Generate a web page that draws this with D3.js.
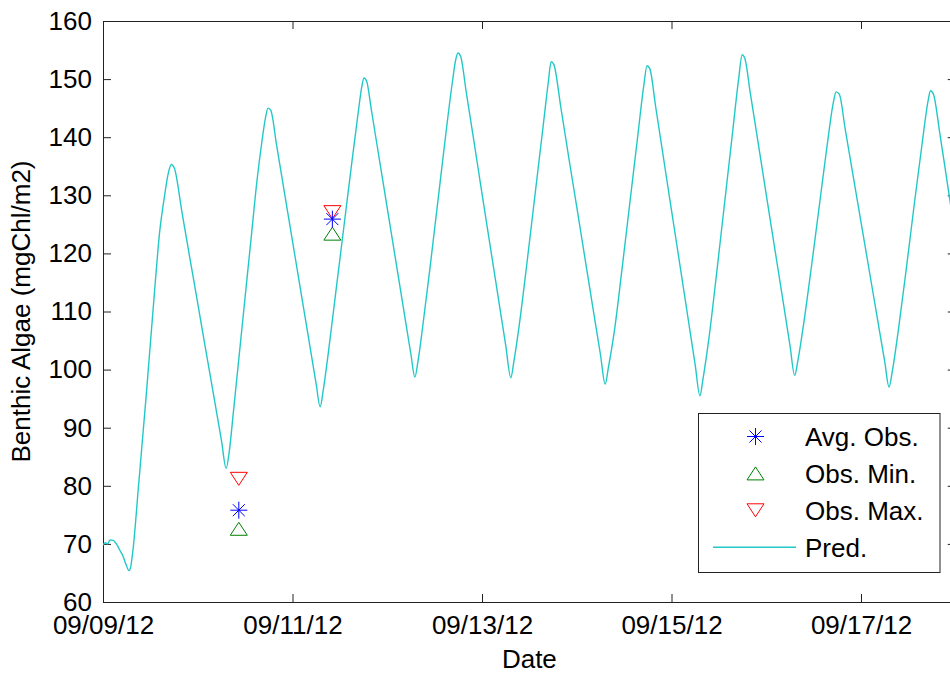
<!DOCTYPE html>
<html>
<head>
<meta charset="utf-8">
<script src="https://cdn.jsdelivr.net/npm/d3@7"></script>
<style>
  html, body { margin: 0; padding: 0; background: #ffffff; }
  svg { display: block; font-family: "Liberation Sans", Arial, Helvetica, sans-serif; }
</style>
</head>
<body>
<svg id="chart" width="950" height="675"></svg>
<script>
// ---- data -------------------------------------------------------------
// Predicted benthic algae, hours after 09/09/12 00:00 and mgChl/m2
const predHours = [
  0, 0.6, 1.2, 1.8, 2.6, 3.4, 4.2, 5.0, 5.8, 6.6, 7.0, 7.6, 9.0, 11.0, 13.0, 14.4, 15.5, 16.6, 17.3, 18.1,
  20, 22, 24, 26, 28, 30, 31.2,
  32, 33, 34.5, 36, 37.5, 39, 40.2, 41.2, 41.8, 42.5,
  44, 46, 48, 50, 52, 54, 55,
  55.8, 57, 59, 61, 63, 64.6, 65.5, 66.1, 66.8,
  68, 70, 72, 74, 76, 78, 79,
  79.8, 81, 83, 85, 87, 88.5, 89.3, 89.9, 90.6,
  92, 94, 96, 98, 100, 102, 103.3,
  104.1, 105.5, 107.5, 109.5, 111.5, 112.8, 113.5, 114.2,
  116, 118, 120, 122, 124, 126, 127.2,
  128, 129.5, 131.5, 133.5, 135.5, 137, 137.8, 138.5,
  140, 142, 144, 146, 148, 150, 151.2,
  152, 153.5, 155.5, 157.5, 159.5, 161, 161.9, 162.6,
  164, 166, 168, 170, 172, 174, 175.2,
  176, 177.5, 179.5, 181.5, 183.5, 185, 185.7, 186.5,
  188, 190, 192, 194, 196, 198, 199.1,
  200, 201.5, 203.5, 205.5, 207.5, 209, 209.6, 210.3,
  212, 214, 216
];
const predValues = [
  69.8, 70.2, 70.0, 70.7, 70.6, 70.0, 69.0, 68.0, 66.5, 65.4, 66.0, 69.0, 80, 96, 113, 124, 129.5, 134, 135.3, 134.6,
  127.1, 119.2, 111.4, 103.5, 95.7, 87.8, 83,
  86, 92.5, 102.5, 112.5, 122.5, 132.5, 139, 143.5, 145, 144.6,
  138.5, 130.3, 122.1, 113.9, 105.7, 97.5, 93.6,
  96.5, 102.5, 113.5, 124.5, 135.5, 144, 148.5, 150.2, 149.6,
  144.6, 136.2, 127.8, 119.4, 111, 102.6, 98.7,
  101.5, 107.5, 118.5, 130, 141.5, 149.5, 153.2, 154.5, 153.9,
  147.8, 139.1, 130.3, 121.6, 112.9, 104.2, 98.6,
  101.5, 108, 119, 130.5, 142, 149.5, 153, 152.5,
  145, 136.4, 128, 119.5, 111, 102.6, 97.5,
  100.3, 106.5, 117.5, 129, 140.5, 149, 152.3, 151.8,
  145.2, 136.3, 127.4, 118.6, 109.7, 100.8, 95.5,
  98.5, 105.5, 117, 129, 141, 150, 154.2, 153.5,
  147.4, 138.8, 130.1, 121.5, 112.9, 104.2, 99,
  101.5, 108, 118, 128.5, 139, 146, 147.8, 147.4,
  141.4, 133.4, 125.4, 117.4, 109.4, 101.4, 97,
  100, 107, 117.5, 128.5, 139, 146.3, 148, 147.5,
  140.5, 131.5, 122.5
];

// Field observations (hours after 09/09/12 00:00)
const obsHours = [34.4, 58.1];
const obsAvg   = [75.8, 125.9];
const obsMin   = [72.6, 123.4];
const obsMax   = [81.2, 127.1];

// Axis ticks and labels
const xTickDays  = [0, 2, 4, 6, 8];
const yTicks     = [60, 70, 80, 90, 100, 110, 120, 130, 140, 150, 160];
const legendLabels = ["Avg. Obs.", "Obs. Min.", "Obs. Max.", "Pred."];
const xTitle = "Date";
const yTitle = "Benthic Algae (mgChl/m2)";

// ---- layout -----------------------------------------------------------
const start = new Date(2012, 8, 9);
const end   = new Date(2012, 8, 18);
const plot  = { left: 103, top: 21, right: 955.75, bottom: 602 };
const fontSize = 26;
const axisColor = "#222222";
const colors = { avg: "#0000ff", min: "#008000", max: "#ff0000", pred: "#22c8c8" };

const toDate = h => d3.timeMinute.offset(start, Math.round(h * 60));

const svg = d3.select("#chart");

const x = d3.scaleTime().domain([start, end]).range([plot.left, plot.right]);
const y = d3.scaleLinear().domain([60, 160]).range([plot.bottom, plot.top]);

// ---- axes (MATLAB style: ticks inside, box on) -------------------------
const fmt = d3.timeFormat("%m/%d/%y");
const xTickDates = xTickDays.map(d => d3.timeDay.offset(start, d));

function styleAxis(g) {
  g.selectAll("path.domain").attr("stroke", axisColor).attr("stroke-width", 1);
  g.selectAll(".tick line").attr("stroke", axisColor).attr("stroke-width", 1);
  g.selectAll(".tick text")
    .attr("fill", "#000")
    .style("font-size", fontSize + "px")
    .style("font-family", "'Liberation Sans', Arial, Helvetica, sans-serif");
}

svg.append("g")
  .attr("transform", `translate(0,${plot.bottom})`)
  .call(d3.axisBottom(x).tickValues(xTickDates).tickFormat(fmt)
        .tickSizeInner(-8).tickSizeOuter(0).tickPadding(13.5))
  .call(styleAxis);

svg.append("g")
  .attr("transform", `translate(0,${plot.top})`)
  .call(d3.axisTop(x).tickValues(xTickDates).tickFormat("")
        .tickSizeInner(-8).tickSizeOuter(0))
  .call(styleAxis);

svg.append("g")
  .attr("transform", `translate(${plot.left},0)`)
  .call(d3.axisLeft(y).tickValues(yTicks).tickFormat(d3.format("d"))
        .tickSizeInner(-8).tickSizeOuter(0).tickPadding(11))
  .call(styleAxis);

svg.append("g")
  .attr("transform", `translate(${plot.right},0)`)
  .call(d3.axisRight(y).tickValues(yTicks).tickFormat("")
        .tickSizeInner(-8).tickSizeOuter(0))
  .call(styleAxis);

// Axis titles
svg.append("text")
  .attr("x", (plot.left + plot.right) / 2)
  .attr("y", 668)
  .attr("text-anchor", "middle")
  .style("font-size", fontSize + "px")
  .text(xTitle);

svg.append("text")
  .attr("transform", `translate(30,${(plot.top + plot.bottom) / 2}) rotate(-90)`)
  .attr("text-anchor", "middle")
  .style("font-size", fontSize + "px")
  .text(yTitle);

// ---- markers --------------------------------------------------------
const starPath = r => {
  const d = r * Math.SQRT1_2;
  return `M${-r},0L${r},0M0,${-r}L0,${r}M${-d},${-d}L${d},${d}M${-d},${d}L${d},${-d}`;
};
const triUp   = (w, h) => `M0,${-h / 2}L${w / 2},${h / 2}L${-w / 2},${h / 2}Z`;
const triDown = (w, h) => `M0,${h / 2}L${w / 2},${-h / 2}L${-w / 2},${-h / 2}Z`;

const markerStar = starPath(8.5);
const markerUp   = triUp(17, 13);
const markerDown = triDown(17, 13);

// ---- predicted series ----------------------------------------------
const clip = svg.append("clipPath").attr("id", "plotClip")
  .append("rect")
  .attr("x", plot.left).attr("y", plot.top)
  .attr("width", plot.right - plot.left).attr("height", plot.bottom - plot.top);

const predData = predHours.map((h, i) => ({ t: toDate(h), v: predValues[i] }));

svg.append("path")
  .datum(predData)
  .attr("clip-path", "url(#plotClip)")
  .attr("fill", "none")
  .attr("stroke", colors.pred)
  .attr("stroke-width", 1.4)
  .attr("stroke-linejoin", "round")
  .attr("d", d3.line().x(d => x(d.t)).y(d => y(d.v)).curve(d3.curveMonotoneX));

// ---- observations ---------------------------------------------------
const obs = obsHours.map((h, i) => ({ t: toDate(h), avg: obsAvg[i], min: obsMin[i], max: obsMax[i] }));

svg.append("g").selectAll("path").data(obs).join("path")
  .attr("transform", d => `translate(${x(d.t)},${y(d.max)})`)
  .attr("d", markerDown).attr("fill", "none").attr("stroke", colors.max).attr("stroke-width", 1);

svg.append("g").selectAll("path").data(obs).join("path")
  .attr("transform", d => `translate(${x(d.t)},${y(d.min)})`)
  .attr("d", markerUp).attr("fill", "none").attr("stroke", colors.min).attr("stroke-width", 1);

svg.append("g").selectAll("path").data(obs).join("path")
  .attr("transform", d => `translate(${x(d.t)},${y(d.avg)})`)
  .attr("d", markerStar).attr("fill", "none").attr("stroke", colors.avg).attr("stroke-width", 1);

// ---- legend ---------------------------------------------------------
const legend = { x: 698.5, y: 413.5, w: 241.5, h: 159, row0: 436.5, rowStep: 36.9, markX: 755.5, textX: 805 };

const lg = svg.append("g");
lg.append("rect")
  .attr("x", legend.x).attr("y", legend.y)
  .attr("width", legend.w).attr("height", legend.h)
  .attr("fill", "#fff").attr("stroke", axisColor).attr("stroke-width", 1);

const legendKeys = [
  { d: markerStar, c: colors.avg },
  { d: markerUp,   c: colors.min },
  { d: markerDown, c: colors.max },
  { line: true,    c: colors.pred }
];

legendLabels.forEach((label, i) => {
  const ry = legend.row0 + i * legend.rowStep;
  const k = legendKeys[i];
  if (k.line) {
    lg.append("line")
      .attr("x1", 713).attr("x2", 796)
      .attr("y1", ry).attr("y2", ry)
      .attr("stroke", k.c).attr("stroke-width", 1.4);
  } else {
    lg.append("path")
      .attr("transform", `translate(${legend.markX},${ry})`)
      .attr("d", k.d).attr("fill", "none").attr("stroke", k.c).attr("stroke-width", 1);
  }
  lg.append("text")
    .attr("x", legend.textX).attr("y", ry)
    .attr("dy", "0.36em")
    .style("font-size", fontSize + "px")
    .text(label);
});
</script>
</body>
</html>
